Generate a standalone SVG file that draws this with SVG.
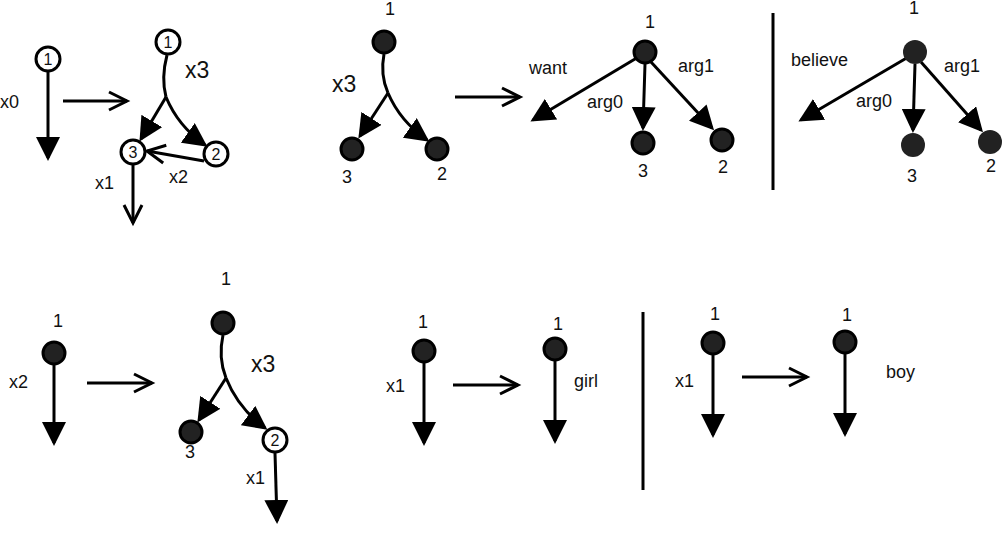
<svg xmlns="http://www.w3.org/2000/svg" width="1003" height="535" viewBox="0 0 1003 535">
<style>
text{font-family:"Liberation Sans",Arial,sans-serif;font-size:18px;fill:#111}
.big{font-size:23px}
.in{font-size:16px;text-anchor:middle}
.c{text-anchor:middle}
.fn{fill:#222;stroke:#000;stroke-width:3}
.fb{fill:#222}
.on{fill:#fff;stroke:#000;stroke-width:3}
.e{fill:none;stroke:#000;stroke-width:3}
.fa{marker-end:url(#fill)}
.oa{marker-end:url(#open)}
.sep{stroke:#000;stroke-width:3}
</style>
<defs>
<marker id="fill" markerUnits="userSpaceOnUse" viewBox="0 0 24 24" markerWidth="24" markerHeight="24" refX="21" refY="12" orient="auto">
<path d="M0,0 L24,12 L0,24 z" fill="#000"/>
</marker>
<marker id="open" markerUnits="userSpaceOnUse" viewBox="0 0 24 24" markerWidth="24" markerHeight="24" refX="21" refY="12" orient="auto" overflow="visible">
<path d="M3,3 L21,12 L3,21" fill="none" stroke="#000" stroke-width="3"/>
</marker>
</defs>
<rect width="1003" height="535" fill="#fff"/>

<g id="connectors">
<!-- top-left -->
<path class="e fa" d="M48,72 L48,158"/>
<path class="e oa" d="M63,101 L127,101"/>
<path class="e" d="M167,55 Q161,78 166,97"/>
<path class="e fa" d="M166,97 L141,139"/>
<path class="e fa" d="M166,97 Q178,126 205,145"/>
<path class="e oa" d="M204,161 L147,151"/>
<path class="e oa" d="M133,165 L133,223"/>
<!-- top middle -->
<path class="e" d="M384,54 Q380,75 388,93"/>
<path class="e fa" d="M388,93 L360,136"/>
<path class="e fa" d="M388,93 Q400,121 427,140"/>
<path class="e oa" d="M455,97 L520,97"/>
<!-- want -->
<path class="e fa" d="M640,56 L533,120"/>
<path class="e fa" d="M645,64 L643,128"/>
<path class="e fa" d="M651,62 L712,128"/>
<!-- believe -->
<path class="e fa" d="M910,56 L801,120"/>
<path class="e fa" d="M915,64 L913,130"/>
<path class="e fa" d="M921,62 L981,130"/>
<!-- bottom-left -->
<path class="e fa" d="M54,365 L54,443"/>
<path class="e oa" d="M87,383 L152,383"/>
<path class="e" d="M223,335 Q218,358 226,378"/>
<path class="e fa" d="M226,378 L199,420"/>
<path class="e fa" d="M226,378 Q238,408 265,428"/>
<path class="e fa" d="M275,453 L277,521"/>
<!-- bottom middle / right -->
<path class="e fa" d="M424,363 L424,443"/>
<path class="e oa" d="M453,385 L518,385"/>
<path class="e fa" d="M555,361 L555,441"/>
<path class="e fa" d="M713,355 L713,435"/>
<path class="e oa" d="M742,377 L807,377"/>
<path class="e fa" d="M845,354 L845,434"/>
</g>

<g id="separators">
<line class="sep" x1="773" y1="13" x2="773" y2="190"/>
<line class="sep" x1="643" y1="312" x2="643" y2="490"/>
</g>

<g id="labels">
<text x="0" y="108">x0</text>
<text class="big" x="185" y="78">x3</text>
<text x="95" y="189">x1</text>
<text x="169" y="183">x2</text>
<text class="c" x="390" y="15">1</text>
<text class="big" x="332" y="92">x3</text>
<text class="c" x="347" y="183">3</text>
<text class="c" x="442" y="180">2</text>
<text class="c" x="650" y="28">1</text>
<text x="529" y="74">want</text>
<text x="587" y="108">arg0</text>
<text x="678" y="72">arg1</text>
<text class="c" x="643" y="177">3</text>
<text class="c" x="723" y="173">2</text>
<text class="c" x="914" y="14">1</text>
<text x="791" y="66">believe</text>
<text x="856" y="107">arg0</text>
<text x="944" y="72">arg1</text>
<text class="c" x="912" y="182">3</text>
<text class="c" x="991" y="172">2</text>
<text class="c" x="58" y="327">1</text>
<text x="9" y="388">x2</text>
<text class="c" x="226" y="285">1</text>
<text class="big" x="251" y="372">x3</text>
<text class="c" x="190" y="458">3</text>
<text x="246" y="484">x1</text>
<text class="c" x="423" y="328">1</text>
<text x="386" y="392">x1</text>
<text class="c" x="558" y="330">1</text>
<text x="574" y="387">girl</text>
<text class="c" x="715" y="320">1</text>
<text x="675" y="387">x1</text>
<text class="c" x="847" y="321">1</text>
<text x="886" y="378">boy</text>
</g>

<g id="n-tl-1"><circle class="on" cx="48" cy="59" r="12"/><text class="in" x="48" y="65">1</text></g>
<g id="n-t2-1"><circle class="on" cx="168" cy="42" r="12"/><text class="in" x="168" y="48">1</text></g>
<g id="n-t2-3"><circle class="on" cx="133" cy="152" r="12"/><text class="in" x="133" y="158">3</text></g>
<g id="n-t2-2"><circle class="on" cx="216" cy="154" r="12"/><text class="in" x="216" y="160">2</text></g>

<g id="n-t3-1"><circle class="fn" cx="384" cy="42" r="11"/></g>
<g id="n-t3-3"><circle class="fn" cx="352" cy="149" r="11"/></g>
<g id="n-t3-2"><circle class="fn" cx="437" cy="149" r="11"/></g>

<g id="n-want-1"><circle class="fn" cx="645" cy="52" r="11"/></g>
<g id="n-want-3"><circle class="fn" cx="643" cy="143" r="11"/></g>
<g id="n-want-2"><circle class="fn" cx="722" cy="140" r="11"/></g>

<g id="n-bel-1"><circle class="fb" cx="915" cy="52" r="12"/></g>
<g id="n-bel-3"><circle class="fb" cx="913" cy="145" r="12"/></g>
<g id="n-bel-2"><circle class="fb" cx="990" cy="142" r="12"/></g>

<g id="n-bl-1"><circle class="fn" cx="54" cy="353" r="11"/></g>
<g id="n-b2-1"><circle class="fn" cx="223" cy="323" r="11"/></g>
<g id="n-b2-3"><circle class="fn" cx="191" cy="432" r="11"/></g>
<g id="n-b2-2"><circle class="on" cx="275" cy="440" r="12"/><text class="in" x="275" y="446">2</text></g>

<g id="n-bm-1"><circle class="fn" cx="424" cy="351" r="11"/></g>
<g id="n-girl-1"><circle class="fn" cx="555" cy="349" r="11"/></g>
<g id="n-br-1"><circle class="fn" cx="713" cy="343" r="11"/></g>
<g id="n-boy-1"><circle class="fn" cx="845" cy="342" r="11"/></g>
</svg>
